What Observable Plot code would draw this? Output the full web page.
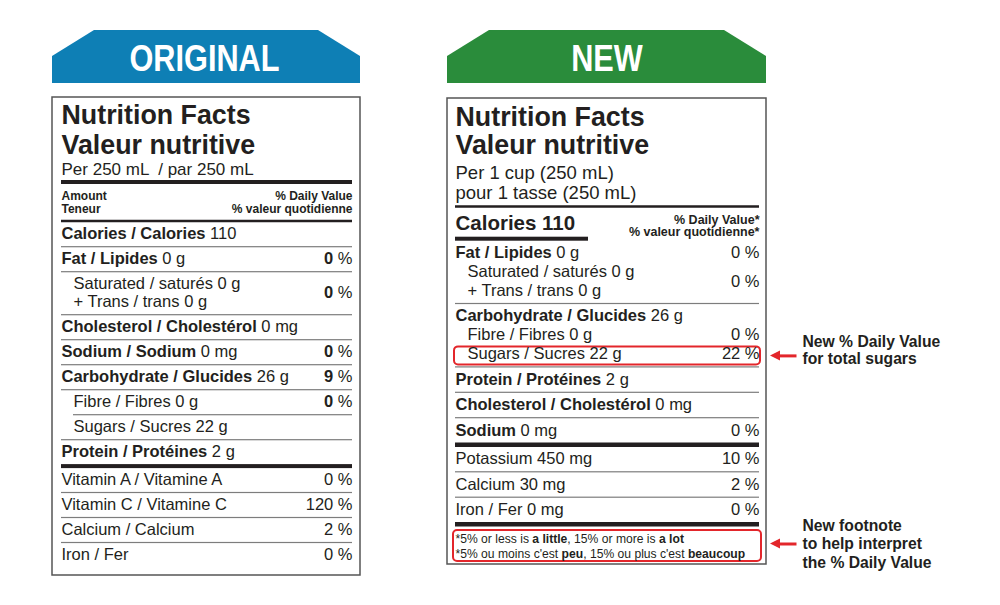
<!DOCTYPE html>
<html><head><meta charset="utf-8">
<script src="https://cdn.jsdelivr.net/npm/d3@7"></script>
<script src="https://cdn.jsdelivr.net/npm/@observablehq/plot@0.6"></script>
<style>html,body{margin:0;padding:0;background:#fff;}</style>
</head><body><div id="chart"></div>
<script>
// ================= DATA =================
const panelTitles = ["ORIGINAL", "NEW"];
const titleLines = ["Nutrition Facts", "Valeur nutritive"];
const origServing = ["Per 250 mL  / par 250 mL"];
const newServing = ["Per 1 cup (250 mL)", "pour 1 tasse (250 mL)"];
const origColumnHeads = ["Amount", "Teneur"];
const origDVHeads = ["% Daily Value", "% valeur quotidienne"];
const newDVHeads = ["% Daily Value*", "% valeur quotidienne*"];
const newCalories = ["Calories", "110"];

// Original label (one entry per printed line)
const origNames = ["Calories / Calories", "Fat / Lipides", "Saturated / saturés", "+ Trans / trans",
  "Cholesterol / Cholestérol", "Sodium / Sodium", "Carbohydrate / Glucides", "Fibre / Fibres",
  "Sugars / Sucres", "Protein / Protéines", "Vitamin A / Vitamine A", "Vitamin C / Vitamine C",
  "Calcium / Calcium", "Iron / Fer"];
const origAmounts = ["110", "0 g", "0 g", "0 g", "0 mg", "0 mg", "26 g", "0 g", "22 g", "2 g", "", "", "", ""];
const origDV = [null, 0, 0, null, null, 0, 9, 0, null, null, 0, 120, 2, 0];
const origKinds = ["main", "main", "sub", "sub", "main", "main", "main", "sub", "sub", "main", "vit", "vit", "vit", "vit"];
const origGroups = [0, 1, 2, 2, 3, 4, 5, 6, 7, 8, 9, 10, 11, 12];

// New label
const newNames = ["Fat / Lipides", "Saturated / saturés", "+ Trans / trans", "Carbohydrate / Glucides",
  "Fibre / Fibres", "Sugars / Sucres", "Protein / Protéines", "Cholesterol / Cholestérol", "Sodium",
  "Potassium", "Calcium", "Iron / Fer"];
const newAmounts = ["0 g", "0 g", "0 g", "26 g", "0 g", "22 g", "2 g", "0 mg", "0 mg", "450 mg", "30 mg", "0 mg"];
const newDV = [0, 0, null, null, 0, 22, null, null, 0, 10, 2, 0];
const newKinds = ["main", "sub", "sub", "main", "sub", "sub", "main", "main", "main", "min", "min", "min"];
const newGroups = [0, 0, 0, 1, 1, 1, 2, 3, 4, 5, 6, 7];

const footnoteEn = [["*5% or less is ", false], ["a little", true], [", 15% or more is ", false], ["a lot", true]];
const footnoteFr = [["*5% ou moins c'est ", false], ["peu", true], [", 15% ou plus c'est ", false], ["beaucoup", true]];

const noteSugars = ["New % Daily Value", "for total sugars"];
const noteFootnote = ["New footnote", "to help interpret", "the % Daily Value"];

// ================= LAYOUT / STYLE =================
const FONT = "'Liberation Sans', Arimo, Arial, Helvetica, sans-serif";
const INK = "#231f20", GRAY = "#7d7d7d", RED = "#e3262b";
const BLUE = "#0e7fb5", GREEN = "#2a8c3b";

const O = {x0: 52, x1: 360, top: 97, bottom: 575, L: 61, R: 352, indent: 12, color: BLUE};
const N = {x0: 447, x1: 766, top: 98, bottom: 564, L: 455, R: 759, indent: 12, color: GREEN};
const banner = {top: 30, shoulder: 56, bottom: 83, inset: 42, baseline: 70};

const ctx = document.createElement("canvas").getContext("2d");
function tw(s, size, weight = 400, family = FONT) {
  ctx.font = `${weight} ${size}px ${family}`;
  return ctx.measureText(s).width;
}
const texts = [], bars = [], boxes = [], bannerPts = [], shafts = [], heads = [];
const squeezed = new Map();   // text -> target length (condensed look)
function T(x, y, text, size, weight = 400, anchor = "start", fill = INK, len = null) {
  const lead = text.length - text.trimStart().length;
  const off = lead ? tw(text.slice(0, lead), size, weight) : 0;
  const t = text.trim();
  texts.push({x: x + (anchor === "start" ? off : 0), y, text: t, size, weight, anchor, fill});
  if (len != null) squeezed.set(t, len);
}
function seg(x, y, parts, size) {
  let cx = x;
  for (const [s, b] of parts) {
    const w = b ? 700 : 400;
    T(cx, y, s, size, w, "start");
    cx += tw(s, size, w);
  }
}
function bar(x1, x2, y, th, fill = INK) { bars.push({x1, x2, y1: y - th / 2, y2: y + th / 2, fill}); }
function dvText(R, y, v, boldNum, size) {
  T(R, y, "%", size, 400, "end");
  T(R - tw(" %", size), y, String(v), size, boldNum ? 700 : 400, "end");
}

// banners (condensed look: glyphs squeezed horizontally)
const titleSize = 37;
const titleSqueeze = 150 / tw(panelTitles[0], titleSize, 700);
[O, N].forEach((P, i) => {
  const b = banner;
  [[P.x0, b.shoulder], [P.x0 + b.inset, b.top], [P.x1 - b.inset, b.top], [P.x1, b.shoulder]]
    .forEach(([x, y]) => bannerPts.push({panel: i, x, y1: b.bottom, y2: y, color: P.color}));
  T((P.x0 + P.x1) / 2 - (i === 0 ? 2 : 0), b.baseline, panelTitles[i], titleSize, 700, "middle", "#ffffff",
    tw(panelTitles[i], titleSize, 700) * titleSqueeze);
});

function rows(P, names, amounts, dvs, kinds, groups, cfg) {
  let top = cfg.start;
  const nG = d3.max(groups) + 1;
  const baselines = [];
  for (let g = 0; g < nG; g++) {
    const idx = d3.range(names.length).filter(i => groups[i] === g);
    idx.forEach((i, k) => baselines[i] = top + cfg.baseOff + k * cfg.extra);
    const bottom = top + cfg.rowH + (idx.length - 1) * cfg.extra;
    const rule = cfg.rules[g];
    const th = rule === "thick" ? cfg.thick : rule === "none" ? 0 : cfg.thin;
    if (rule !== "none") bar(rule === "indent" ? P.L + P.indent : P.L, P.R, bottom + th / 2, th, rule === "thick" ? INK : GRAY);
    top = bottom + th;
  }
  names.forEach((name, i) => {
    const x = P.L + (kinds[i] === "sub" ? P.indent : 0);
    const y = baselines[i];
    const bold = kinds[i] === "main";
    const full = amounts[i] ? [[name, bold], [" " + amounts[i], false]] : [[name, bold]];
    seg(x, y, full, cfg.size);
    if (dvs[i] != null) {
      const yy = cfg.midDV.includes(i) ? (baselines[i] + baselines[i + 1]) / 2 : y;
      dvText(P.R, yy, dvs[i], cfg.boldDV(kinds[i]), cfg.size);
    }
  });
  return baselines;
}

// -------- original label --------
T(O.L, 123, titleLines[0], 26.8, 700);
T(O.L, 153, titleLines[1], 26.8, 700);
T(O.L, 174, origServing[0], 17);
bar(O.L, O.R, 182, 4);
T(O.L, 199, origColumnHeads[0], 12, 700);
T(O.R, 199, origDVHeads[0], 12, 700, "end");
T(O.L, 212.5, origColumnHeads[1], 12, 700);
T(O.R, 212.5, origDVHeads[1], 12, 700, "end");
bar(O.L, O.R, 221, 2.5);
rows(O, origNames, origAmounts, origDV, origKinds, origGroups, {
  start: 222.3, rowH: 23.8, extra: 18, baseOff: 16.5, thin: 1.2, thick: 4, size: 16.5,
  rules: ["thin", "thin", "thin", "thin", "thin", "thin", "indent", "thin", "thick", "thin", "thin", "thin", "none"],
  midDV: [2], boldDV: k => k !== "vit"
});

// -------- new label --------
T(N.L, 125, titleLines[0], 26.8, 700);
T(N.L, 153, titleLines[1], 26.8, 700);
T(N.L, 178, newServing[0], 18.5);
T(N.L, 198, newServing[1], 18.5);
bar(N.L, N.R, 206.5, 2.5);
seg(N.L, 229, [[newCalories[0], true], [" " + newCalories[1], true]], 20.5);
T(N.R, 223, newDVHeads[0], 12.5, 700, "end");
T(N.R, 235.5, newDVHeads[1], 12.5, 700, "end");
bar(N.L, 588, 238.7, 4);
const nb = rows(N, newNames, newAmounts, newDV, newKinds, newGroups, {
  start: 240.7, rowH: 24.2, extra: 19, baseOff: 16.8, thin: 1.2, thick: 4.5, size: 16.5,
  rules: ["thin", "thin", "thin", "thin", "thick", "thin", "thin", "thick"],
  midDV: [1], boldDV: () => false
});
// footnote: size chosen so the French line spans the box width
const fnSize = 10 * 290 / d3.sum(footnoteFr, ([t, b]) => tw(t, 10, b ? 700 : 400));
seg(N.L, 542.5, footnoteEn, fnSize);
seg(N.L, 557.5, footnoteFr, fnSize);

// highlight boxes
const sugarsY = nb[newNames.indexOf("Sugars / Sucres")];
boxes.push({x1: N.L - 1, x2: N.R + 1, y1: sugarsY - 12.5, y2: sugarsY + 5.5});
boxes.push({x1: N.L - 2, x2: N.R + 2, y1: 530, y2: 561});

// annotations
const noteX = 802, noteSize = 15.7;
const arrowYs = [(boxes[0].y1 + boxes[0].y2) / 2, (boxes[1].y1 + boxes[1].y2) / 2 - 2];
noteSugars.forEach((s, i) => T(noteX, 346 + i * 17.5, s, noteSize, 700));
noteFootnote.forEach((s, i) => T(noteX, 530 + i * 18.5, s, noteSize, 700));
arrowYs.forEach((y, i) => {
  shafts.push({x1: 778, x2: 796, y});
  heads.push({a: i, x: 770, y1: y, y2: y});
  heads.push({a: i, x: 780, y1: y - 5, y2: y + 5});
});

// ================= PLOT =================
const textMarks = Array.from(d3.group(texts, d => [d.weight, d.anchor, d.fill].join("|")), ([k, arr]) => {
  const d0 = arr[0];
  return Plot.text(arr, {
    x: "x", y: "y", text: "text", fontSize: d => d.size, lineAnchor: "bottom",
    textAnchor: d0.anchor, fontWeight: d0.weight, fontFamily: FONT, fill: d0.fill
  });
});

const chart = Plot.plot({
  width: 1000, height: 605, margin: 0,
  x: {domain: [0, 1000], range: [0, 1000], axis: null},
  y: {domain: [0, 605], range: [0, 605], axis: null},
  style: {background: "#ffffff", fontFamily: FONT},
  marks: [
    Plot.areaY(bannerPts, {x: "x", y1: "y1", y2: "y2", z: "panel", fill: d => d.color, curve: "linear"}),
    Plot.rect([O, N], {x1: "x0", x2: "x1", y1: "top", y2: "bottom", fill: "#ffffff", stroke: "#555", strokeWidth: 1.5}),
    Plot.rect(bars, {x1: "x1", x2: "x2", y1: "y1", y2: "y2", fill: d => d.fill}),
    Plot.rect(boxes, {x1: "x1", x2: "x2", y1: "y1", y2: "y2", fill: "none", stroke: RED, strokeWidth: 2, rx: 4}),
    Plot.link(shafts, {x1: "x1", x2: "x2", y1: "y", y2: "y", stroke: RED, strokeWidth: 3}),
    Plot.areaY(heads, {x: "x", y1: "y1", y2: "y2", z: "a", fill: RED, curve: "linear"}),
    ...textMarks
  ]
});
// condensed glyphs for the banner titles
d3.select(chart).selectAll("text").each(function () {
  const len = squeezed.get(this.textContent);
  if (len != null) {
    this.setAttribute("textLength", len);
    this.setAttribute("lengthAdjust", "spacingAndGlyphs");
  }
});
document.getElementById("chart").appendChild(chart);
</script>
</body></html>
